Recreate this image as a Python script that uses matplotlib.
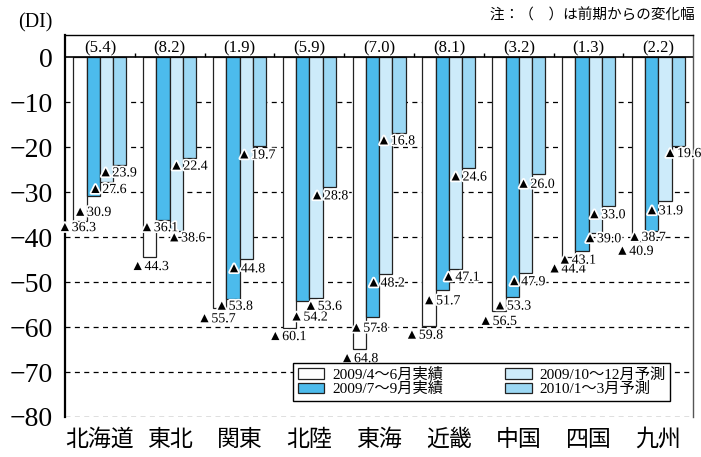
import matplotlib
matplotlib.use("Agg")
import matplotlib.pyplot as plt
import matplotlib.patheffects as pe
import numpy as np

regions = ["北海道", "東北", "関東", "北陸", "東海", "近畿", "中国", "四国", "九州"]
series_names = ["2009/4～6月実績", "2009/7～9月実績", "2009/10～12月予測", "2010/1～3月予測"]
apr_jun = [-36.3, -44.3, -55.7, -60.1, -64.8, -59.8, -56.5, -44.4, -40.9]
jul_sep = [-30.9, -36.1, -53.8, -54.2, -57.8, -51.7, -53.3, -43.1, -38.7]
oct_dec = [-27.6, -38.6, -44.8, -53.6, -48.2, -47.1, -47.9, -39.0, -31.9]
jan_mar = [-23.9, -22.4, -19.7, -28.8, -16.8, -24.6, -26.0, -33.0, -19.6]
yticks = [0, -10, -20, -30, -40, -50, -60, -70, -80]

colors = ["white", "#4cbbec", "#cdebfa", "#9cd8f4"]

# where each value label sits, pixels from the bottom centre of its bar
label_offsets = [
    [(-22, -7), (-20, -16), (-18, -8), (-21, -8)],
    [(-19, -10), (-23, -8), (-9, -7), (-20, -8)],
    [(-22, -11), (-18, -7), (-19, -10), (-22, -9)],
    [(-21, -9), (-13, -16), (-12, -8), (-19, -9)],
    [(-19, -10), (-23, -11), (-19, -9), (-22, -8)],
    [(-24, -9), (-20, -11), (-14, -8), (-20, -9)],
    [(-20, -10), (-19, -9), (-18, -9), (-22, -10)],
    [(-21, -12), (-24, -9), (-12, -6), (-21, -9)],
    [(-23, -10), (-24, -6), (-20, -10), (-15, -8)],
]

SERIF = ["Liberation Serif", "DejaVu Sans"]
JP = ["Noto Sans CJK JP", "DejaVu Sans"]
MIXED = ["Liberation Serif", "Noto Sans CJK JP"]

fig = plt.figure(figsize=(7.01, 4.57), dpi=100)
ax = fig.add_axes([65 / 701, 1 - 417 / 457, 628.3 / 701, 382 / 457])

x = np.arange(len(regions))
w = 0.19
series = [apr_jun, jul_sep, oct_dec, jan_mar]
bars = []
for k, vals in enumerate(series):
    b = ax.bar(x + (k - 1.5) * w, vals, w, color=colors[k], edgecolor="#222222",
               linewidth=0.9, zorder=3, label=series_names[k])
    bars.append(b)

# value labels, ▲ is the minus sign
for k, vals in enumerate(series):
    for i, v in enumerate(vals):
        dx, dy = label_offsets[i][k]
        ax.annotate("▲" + f"{abs(v):.1f}", xy=(x[i] + (k - 1.5) * w, v),
                    xytext=(dx, dy), textcoords="offset pixels",
                    ha="left", va="center", fontsize=10, family=SERIF, zorder=6,
                    path_effects=[pe.withStroke(linewidth=2.5, foreground="white")])

# change from previous period in the header band
for i in range(len(regions)):
    d = jul_sep[i] - apr_jun[i]
    ax.text(x[i], 2.1, f"({d:.1f})", ha="center", va="center", fontsize=12, family=SERIF)

ax.set_xlim(-0.5, len(regions) - 0.5)
ax.set_ylim(-80, 5)

ax.axhline(0, color="black", linewidth=1.2, zorder=4)
for yv in yticks[1:]:
    ax.axhline(yv, color="black", linewidth=0.9, linestyle=(0, (4, 3.5)), zorder=1)
ax.vlines(np.arange(len(regions) - 1) + 0.5, 0, 1.0, color="black", linewidth=1.0)

ax.set_yticks(yticks)
ax.set_yticklabels(["0"] + [f"−{abs(t)}" for t in yticks[1:]], family=SERIF, fontsize=20)
ax.set_xticks(x)
ax.set_xticklabels(regions, family=JP, fontsize=16.5)
ax.tick_params(axis="y", length=0, pad=9)
ax.tick_params(axis="x", length=0, pad=8)

ax.spines["bottom"].set_visible(False)
ax.spines["left"].set_linewidth(1.6)
ax.spines["top"].set_linewidth(1.0)
ax.spines["right"].set_linewidth(1.0)
ax.spines["right"].set_color("#555555")

leg = ax.legend(handles=bars, ncol=2, loc="lower left", mode="expand",
                bbox_to_anchor=(0.363, 0.042, 0.60, 0.086),
                borderaxespad=0, prop={"family": MIXED, "size": 11},
                handlelength=1.75, handleheight=0.7, handletextpad=0.5,
                labelspacing=0.05, borderpad=0.3, fancybox=False, framealpha=1)
leg.get_frame().set_edgecolor("black")
leg.get_frame().set_linewidth(1.0)
leg.set_zorder(7)

fig.text(18 / 701, 1 - 23 / 457, "(DI)", family=SERIF, fontsize=14.5, ha="left", va="center")
fig.text(695 / 701, 1 - 15 / 457, "注：（　）は前期からの変化幅", family=JP, fontsize=10.5,
         ha="right", va="center")

fig.savefig("out.png", dpi=100)
